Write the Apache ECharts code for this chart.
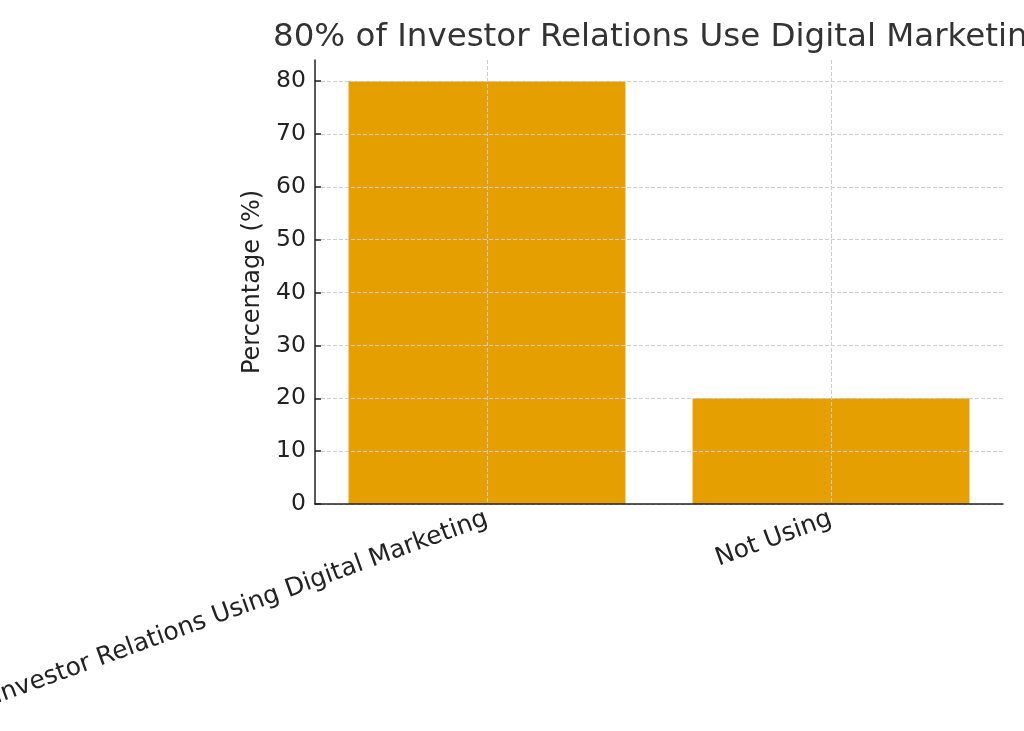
<!DOCTYPE html>
<html>
<head>
<meta charset="utf-8">
<script src="https://cdn.jsdelivr.net/npm/echarts@6/dist/echarts.min.js"></script>
<style>
    html, body { margin: 0; padding: 0; background: #fff; }
    #chart_box { width: 1024px; height: 731px; }
</style>
</head>
<body>
<div id="chart_box"></div>
<script>
(function() {

    // data
    var categories = ['Investor Relations Using Digital Marketing', 'Not Using'];
    var percentages = [80, 20];
    var yTicks = [0, 10, 20, 30, 40, 50, 60, 70, 80];

    var font = 'DejaVu Sans';
    var myChart = echarts.init(document.getElementById('chart_box'));

    myChart.setOption({
        animation: false,
        title: {
            text: '80% of Investor Relations Use Digital Marketing',
            left: 268,
            top: 16,
            textStyle: {
                color: '#333',
                fontFamily: font,
                fontWeight: 'normal',
                fontSize: 32.5
            }
        },
        grid: {
            left: 315,
            right: 21,
            top: 60,
            bottom: 227,
            containLabel: false,
            outerBoundsMode: 'none'
        },
        xAxis: {
            type: 'category',
            data: categories,
            z: 3,
            axisLine: {
                lineStyle: { color: '#222', width: 1.5 }
            },
            axisTick: {
                inside: true,
                alignWithLabel: true,
                length: 6,
                lineStyle: { color: '#222', width: 1.5 }
            },
            axisLabel: {
                rotate: 20,
                margin: 14,
                color: '#222',
                fontFamily: font,
                fontSize: 25
            },
            splitLine: {
                show: true,
                alignWithLabel: true,
                lineStyle: { color: '#ccc', type: 'dashed', width: 1 }
            }
        },
        yAxis: {
            type: 'value',
            min: 0,
            max: 84,
            interval: 10,
            z: 3,
            name: 'Percentage (%)',
            nameLocation: 'middle',
            nameRotate: 90,
            nameGap: 50,
            nameTextStyle: {
                color: '#222',
                fontFamily: font,
                fontSize: 24
            },
            axisLine: {
                show: true,
                lineStyle: { color: '#222', width: 1.5 }
            },
            axisTick: {
                show: true,
                inside: true,
                length: 6,
                customValues: yTicks,
                lineStyle: { color: '#222', width: 1.5 }
            },
            axisLabel: {
                margin: 9,
                color: '#222',
                fontFamily: font,
                fontSize: 23.5,
                customValues: yTicks
            },
            splitLine: {
                show: true,
                lineStyle: { color: '#ccc', type: 'dashed', width: 1 }
            }
        },
        series: [{
            type: 'bar',
            data: percentages,
            barWidth: '80.5%',
            itemStyle: { color: '#E69F00' }
        }]
    });
})();
</script>
</body>
</html>
